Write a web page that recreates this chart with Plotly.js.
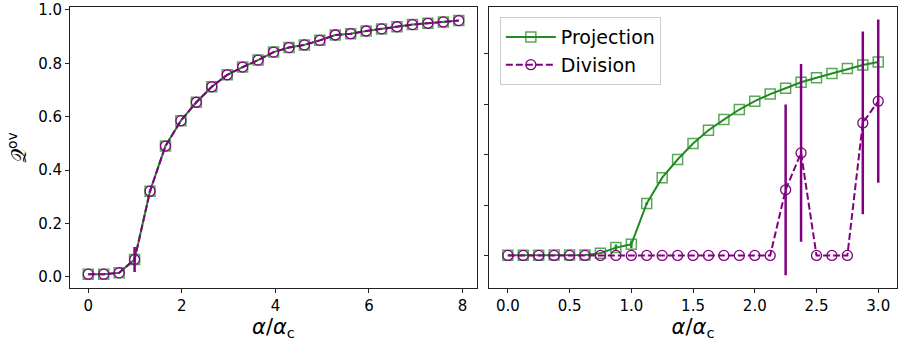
<!DOCTYPE html>
<html>
<head>
<meta charset="utf-8">
<script src="https://cdn.plot.ly/plotly-3.0.1.min.js"></script>
<style>html,body{margin:0;padding:0;background:#fff;}#chart{width:899px;height:343px;}</style>
</head>
<body>
<div id="chart"></div>
<script>
// Left panel: alpha/alpha_c from 0 to 7.92
const xLeft = [0,0.33,0.66,0.99,1.32,1.65,1.98,2.31,2.64,2.97,3.30,3.63,3.96,4.29,4.62,4.95,5.28,5.61,5.94,6.27,6.60,6.93,7.26,7.59,7.92];
const projLeft = [0.010,0.010,0.015,0.065,0.321,0.490,0.585,0.654,0.712,0.757,0.786,0.812,0.842,0.859,0.869,0.886,0.906,0.911,0.921,0.929,0.937,0.945,0.950,0.955,0.960];
const projLeftErr = [0,0,0,0.01,0.005,0,0,0,0,0,0,0,0,0,0,0,0,0,0,0,0,0,0,0,0];
const divLeft = [0.010,0.010,0.015,0.065,0.321,0.490,0.585,0.654,0.712,0.757,0.786,0.812,0.842,0.859,0.869,0.886,0.906,0.911,0.921,0.929,0.937,0.945,0.950,0.955,0.960];
const divLeftErr = [0,0,0,0.047,0,0,0,0,0,0,0,0,0,0,0,0,0,0,0,0,0,0,0,0,0];

// Right panel: alpha/alpha_c from 0 to 3
const xRight = [0,0.125,0.25,0.375,0.5,0.625,0.75,0.875,1.0,1.125,1.25,1.375,1.5,1.625,1.75,1.875,2.0,2.125,2.25,2.375,2.5,2.625,2.75,2.875,3.0];
const projRight = [0.003,0.003,0.003,0.004,0.004,0.004,0.011,0.033,0.046,0.208,0.310,0.382,0.445,0.498,0.540,0.580,0.613,0.641,0.664,0.688,0.706,0.723,0.742,0.756,0.768];
const projRightErr = [0,0,0,0,0,0,0.003,0.012,0.015,0.005,0,0,0,0,0,0,0,0,0,0,0,0,0,0,0];
const divRight = [0.002,0.002,0.002,0.002,0.002,0.002,0.002,0.002,0.002,0.002,0.002,0.002,0.002,0.002,0.002,0.002,0.002,0.002,0.262,0.408,0.002,0.002,0.002,0.527,0.613];
const divRightErr = [0,0,0,0,0,0,0,0,0,0,0,0,0,0,0,0,0,0,0.338,0.352,0,0,0,0.362,0.323];

const xTicksLeft = [0,2,4,6,8];
const xTicksRight = [0,0.5,1.0,1.5,2.0,2.5,3.0];
const yTicks = [0,0.2,0.4,0.6,0.8,1.0];
const yTicksRight = [0,0.2,0.4,0.6,0.8];

const legendNames = ['Projection','Division'];

const green = '#228B22';
const purple = '#800080';

function projTrace(x, y, err, xa, ya, show) {
  return {
    x: x, y: y, xaxis: xa, yaxis: ya, type: 'scatter', mode: 'lines+markers',
    name: legendNames[0], showlegend: show,
    line: {color: green, width: 2},
    marker: {symbol: 'square-open', size: 10, color: 'rgba(34,139,34,0.75)', line: {width: 1.5}},
    error_y: {type: 'data', array: err, visible: true, color: green, thickness: 2.5, width: 0}
  };
}
function divTrace(x, y, err, xa, ya, show) {
  return {
    x: x, y: y, xaxis: xa, yaxis: ya, type: 'scatter', mode: 'lines+markers',
    name: legendNames[1], showlegend: show,
    line: {color: purple, width: 2, dash: '7px,3px'},
    marker: {symbol: 'circle-open', size: 10, color: purple, line: {width: 1.3}},
    error_y: {type: 'data', array: err, visible: true, color: purple, thickness: 2.5, width: 0}
  };
}

const data = [
  projTrace(xLeft, projLeft, projLeftErr, 'x', 'y', false),
  divTrace(xLeft, divLeft, divLeftErr, 'x', 'y', false),
  projTrace(xRight, projRight, projRightErr, 'x2', 'y2', true),
  divTrace(xRight, divRight, divRightErr, 'x2', 'y2', true)
];

const axisCommon = {
  showgrid: false, zeroline: false, showline: true, mirror: true,
  linecolor: '#222', linewidth: 1, ticks: 'outside', ticklen: 4, tickwidth: 1, tickcolor: '#222',
  tickfont: {family: 'DejaVu Sans', size: 15, color: '#000'}
};

const layout = {
  width: 899, height: 343,
  margin: {l: 0, r: 0, t: 0, b: 0},
  paper_bgcolor: '#fff', plot_bgcolor: '#fff',
  font: {family: 'DejaVu Sans', color: '#000'},
  showlegend: true,
  legend: {
    x: 0.556, y: 0.950, xanchor: 'left', yanchor: 'top',
    bgcolor: 'rgba(255,255,255,0.8)', bordercolor: '#ccc', borderwidth: 1,
    font: {family: 'DejaVu Sans', size: 19, color: '#000'},
    itemwidth: 50, tracegroupgap: 0
  },
  xaxis: Object.assign({}, axisCommon, {
    domain: [0.0779, 0.5306], range: [-0.39, 8.31], tickvals: xTicksLeft,
    anchor: 'y',
    title: {text: '<i>α</i>/<i>α</i><sub>c</sub>', font: {family: 'DejaVu Sans', size: 21}, standoff: 2}
  }),
  yaxis: Object.assign({}, axisCommon, {
    domain: [0.1603, 0.9796], range: [-0.042, 1.011], tickvals: yTicks, tickformat: '.1f',
    anchor: 'x',
    title: {text: '𝒬<sup>ov</sup>', font: {family: 'DejaVu Sans', size: 20}, standoff: 6}
  }),
  xaxis2: Object.assign({}, axisCommon, {
    domain: [0.5443, 0.9975], range: [-0.15, 3.15], tickvals: xTicksRight, tickformat: '.1f',
    anchor: 'y2',
    title: {text: '<i>α</i>/<i>α</i><sub>c</sub>', font: {family: 'DejaVu Sans', size: 21}, standoff: 2}
  }),
  yaxis2: Object.assign({}, axisCommon, {
    domain: [0.1603, 0.9796], range: [-0.127, 0.986], tickvals: yTicksRight, showticklabels: false,
    anchor: 'x2'
  })
};

Plotly.newPlot('chart', data, layout, {displayModeBar: false, staticPlot: true});
</script>
</body>
</html>
